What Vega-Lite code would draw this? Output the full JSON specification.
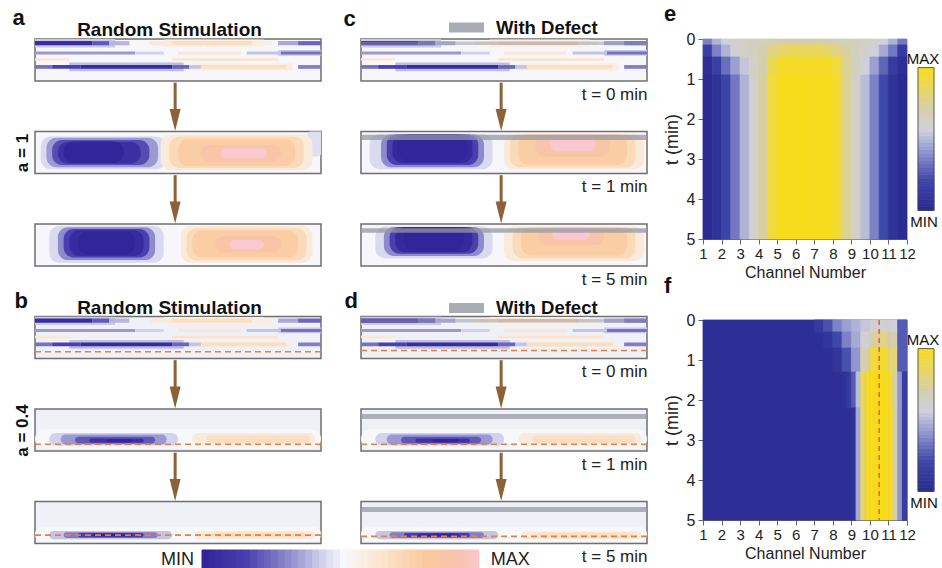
{
"$schema":"https://vega.github.io/schema/vega-lite/v6.json",
"padding":{"left":11,"top":3,"right":0,"bottom":0},
"config":{"font":"Liberation Sans","view":{"stroke":"#6f6f6f","strokeWidth":1.5},"axis":{"labelColor":"#222","titleColor":"#222","domainColor":"#666","tickColor":"#666"},"title":{"color":"#111"}},
"datasets":{
"lines":[
{"x":0,"x2":28,"y":8.0,"y2":10,"v":-0.18},{"x":12,"x2":52,"y":2.3,"y2":4.4,"v":-0.22},{"x":85,"x2":100,"y":6.0,"y2":7.4,"v":-0.18},{"x":45,"x2":80,"y":8.1,"y2":9.9,"v":0.12},{"x":55,"x2":90,"y":2.5,"y2":4.2,"v":0.14},
{"x":0,"x2":20,"y":8.5,"y2":9.5,"v":-0.9},{"x":20,"x2":26,"y":8.5,"y2":9.5,"v":-0.6},{"x":26,"x2":33,"y":8.5,"y2":9.5,"v":-0.25},{"x":40,"x2":48,"y":8.5,"y2":9.5,"v":0.2},{"x":48,"x2":76,"y":8.5,"y2":9.5,"v":0.35},{"x":76,"x2":83,"y":8.5,"y2":9.5,"v":0.15},{"x":85,"x2":92,"y":8.5,"y2":9.5,"v":-0.3},{"x":92,"x2":100,"y":8.5,"y2":9.5,"v":-0.55},
{"x":0,"x2":35,"y":6.3,"y2":7.0,"v":-0.35},{"x":35,"x2":45,"y":6.3,"y2":7.0,"v":-0.15},{"x":50,"x2":72,"y":6.3,"y2":7.0,"v":0.25},{"x":74,"x2":86,"y":6.3,"y2":7.0,"v":-0.2},{"x":86,"x2":100,"y":6.3,"y2":7.0,"v":-0.5},
{"x":0,"x2":12,"y":4.8,"y2":5.4,"v":0.25},{"x":48,"x2":85,"y":4.8,"y2":5.4,"v":0.3},
{"x":0,"x2":6,"y":2.9,"y2":3.8,"v":-0.5},{"x":6,"x2":16,"y":2.9,"y2":3.8,"v":-0.7},{"x":16,"x2":48,"y":2.9,"y2":3.8,"v":-0.92},{"x":48,"x2":54,"y":2.9,"y2":3.8,"v":-0.55},{"x":54,"x2":58,"y":2.9,"y2":3.8,"v":-0.2},{"x":58,"x2":88,"y":2.9,"y2":3.8,"v":0.35},{"x":92,"x2":100,"y":2.9,"y2":3.8,"v":-0.45}
],
"blobs":[
{"s":"a2","x":95,"x2":101,"y":4,"y2":10.5,"v":-0.1},
{"s":"a2","x":2,"x2":46,"y":1,"y2":8.8,"v":-0.12},{"s":"a2","x":4,"x2":43,"y":1.5,"y2":8.5,"v":-0.35},{"s":"a2","x":6,"x2":40,"y":2,"y2":8,"v":-0.65},{"s":"a2","x":8,"x2":37,"y":2.4,"y2":7.5,"v":-0.88},{"s":"a2","x":10,"x2":31,"y":2.5,"y2":7.6,"v":-1},
{"s":"a2","x":44,"x2":97,"y":0.8,"y2":9.3,"v":0.2},{"s":"a2","x":47,"x2":94,"y":1.3,"y2":8.8,"v":0.4},{"s":"a2","x":50,"x2":91,"y":1.8,"y2":8.2,"v":0.55},{"s":"a2","x":58,"x2":86,"y":2.8,"y2":6.8,"v":0.75},{"s":"a2","x":65,"x2":81,"y":3.6,"y2":6,"v":1},
{"s":"a3","x":5,"x2":45,"y":0.8,"y2":9.6,"v":-0.12},{"s":"a3","x":8,"x2":42,"y":1.4,"y2":9.2,"v":-0.4},{"s":"a3","x":10,"x2":40,"y":2,"y2":8.8,"v":-0.7},{"s":"a3","x":12,"x2":38,"y":2.4,"y2":8.5,"v":-0.92},{"s":"a3","x":15,"x2":35,"y":2.7,"y2":8.2,"v":-1},
{"s":"a3","x":51,"x2":97,"y":0.8,"y2":9.5,"v":0.2},{"s":"a3","x":53,"x2":95,"y":1.3,"y2":9,"v":0.4},{"s":"a3","x":55,"x2":92,"y":2,"y2":8.5,"v":0.55},{"s":"a3","x":63,"x2":86,"y":3.2,"y2":7.2,"v":0.75},{"s":"a3","x":68,"x2":80,"y":4,"y2":6.2,"v":1},
{"s":"c2","x":3,"x2":46,"y":1,"y2":9.4,"v":-0.12},{"s":"c2","x":7,"x2":43,"y":1.5,"y2":9.3,"v":-0.4},{"s":"c2","x":9,"x2":41,"y":2,"y2":9.3,"v":-0.7},{"s":"c2","x":11,"x2":39,"y":2.5,"y2":9.2,"v":-0.95},{"s":"c2","x":13,"x2":37,"y":2.9,"y2":9.2,"v":-1},
{"s":"c2","x":50,"x2":99,"y":1,"y2":9.4,"v":0.2},{"s":"c2","x":52,"x2":96,"y":1.4,"y2":9.3,"v":0.4},{"s":"c2","x":55,"x2":93,"y":2,"y2":9.3,"v":0.55},{"s":"c2","x":61,"x2":87,"y":4,"y2":9.2,"v":0.75},{"s":"c2","x":66,"x2":82,"y":5.3,"y2":9.1,"v":1},
{"s":"c3","x":5,"x2":46,"y":1.8,"y2":9.4,"v":-0.12},{"s":"c3","x":8,"x2":43,"y":2.4,"y2":9.3,"v":-0.4},{"s":"c3","x":10,"x2":41,"y":2.9,"y2":9.3,"v":-0.7},{"s":"c3","x":12,"x2":39,"y":3.3,"y2":9.2,"v":-0.95},{"s":"c3","x":15,"x2":36,"y":3.7,"y2":9.1,"v":-1},
{"s":"c3","x":50,"x2":99,"y":1.2,"y2":9.4,"v":0.2},{"s":"c3","x":53,"x2":96,"y":1.8,"y2":9.3,"v":0.4},{"s":"c3","x":56,"x2":93,"y":2.5,"y2":9.2,"v":0.55},{"s":"c3","x":62,"x2":85,"y":5,"y2":9.1,"v":0.75},{"s":"c3","x":67,"x2":80,"y":6.2,"y2":9,"v":1},
{"s":"b2","x":0,"x2":100,"y":0.6,"y2":5.2,"v":0},{"s":"b2","x":5,"x2":50,"y":1.3,"y2":4.3,"v":-0.15},{"s":"b2","x":9,"x2":46,"y":1.6,"y2":3.9,"v":-0.35},{"s":"b2","x":14,"x2":42,"y":1.8,"y2":3.4,"v":-0.6},{"s":"b2","x":19,"x2":38,"y":2,"y2":3,"v":-0.85},{"s":"b2","x":25,"x2":34,"y":2.1,"y2":2.8,"v":-1},
{"s":"b2","x":55,"x2":98,"y":1.5,"y2":4.3,"v":0.2},{"s":"b2","x":60,"x2":96,"y":1.9,"y2":3.8,"v":0.35},
{"s":"b3","x":0,"x2":100,"y":0.4,"y2":4,"v":0},{"s":"b3","x":5,"x2":48,"y":1,"y2":3,"v":-0.2},{"s":"b3","x":10,"x2":43,"y":1.3,"y2":2.7,"v":-0.45},{"s":"b3","x":15,"x2":38,"y":1.5,"y2":2.5,"v":-0.75},{"s":"b3","x":20,"x2":34,"y":1.7,"y2":2.3,"v":-1},
{"s":"b3","x":56,"x2":98,"y":1.1,"y2":2.9,"v":0.2},{"s":"b3","x":62,"x2":95,"y":1.4,"y2":2.6,"v":0.35}
],
"dash":[{"s":"b1","y":1.6},{"s":"b2","y":1.6},{"s":"b3","y":2.0},{"s":"d1","y":1.9},{"s":"d2","y":1.6},{"s":"d3","y":1.7}],
"defect":[{"s":"c1","y":8.6,"y2":9.4,"k":"With Defect"},{"s":"c2","y":8.0,"y2":9.2,"k":"With Defect"},{"s":"c3","y":7.9,"y2":9.0,"k":"With Defect"},{"s":"d1","y":8.6,"y2":9.4,"k":"With Defect"},{"s":"d2","y":7.6,"y2":8.8,"k":"With Defect"},{"s":"d3","y":7.5,"y2":8.7,"k":"With Defect"}],
"cb":[{"v":-1,"w":-0.95},{"v":-0.95,"w":-0.9},{"v":-0.9,"w":-0.85},{"v":-0.85,"w":-0.8},{"v":-0.8,"w":-0.75},{"v":-0.75,"w":-0.7},{"v":-0.7,"w":-0.65},{"v":-0.65,"w":-0.6},{"v":-0.6,"w":-0.55},{"v":-0.55,"w":-0.5},{"v":-0.5,"w":-0.45},{"v":-0.45,"w":-0.4},{"v":-0.4,"w":-0.35},{"v":-0.35,"w":-0.3},{"v":-0.3,"w":-0.25},{"v":-0.25,"w":-0.2},{"v":-0.2,"w":-0.15},{"v":-0.15,"w":-0.1},{"v":-0.1,"w":-0.05},{"v":-0.05,"w":0},{"v":0,"w":0.05},{"v":0.05,"w":0.1},{"v":0.1,"w":0.15},{"v":0.15,"w":0.2},{"v":0.2,"w":0.25},{"v":0.25,"w":0.3},{"v":0.3,"w":0.35},{"v":0.35,"w":0.4},{"v":0.4,"w":0.45},{"v":0.45,"w":0.5},{"v":0.5,"w":0.55},{"v":0.55,"w":0.6},{"v":0.6,"w":0.65},{"v":0.65,"w":0.7},{"v":0.7,"w":0.75},{"v":0.75,"w":0.8},{"v":0.8,"w":0.85},{"v":0.85,"w":0.9},{"v":0.9,"w":0.95},{"v":0.95,"w":1}],
"eh":[
{"c":1,"d":1.5,"t":0,"u":0.15,"v":-0.3},{"c":1.5,"d":2,"t":0,"u":0.15,"v":-0.05},{"c":2,"d":2.5,"t":0,"u":0.15,"v":0.1},{"c":2.5,"d":3,"t":0,"u":0.15,"v":0.2},{"c":3,"d":3.5,"t":0,"u":0.15,"v":0.25},{"c":3.5,"d":4,"t":0,"u":0.15,"v":0.3},{"c":4,"d":4.5,"t":0,"u":0.15,"v":0.3},{"c":4.5,"d":5,"t":0,"u":0.15,"v":0.35},{"c":5,"d":5.5,"t":0,"u":0.15,"v":0.4},{"c":5.5,"d":6,"t":0,"u":0.15,"v":0.4},{"c":6,"d":6.5,"t":0,"u":0.15,"v":0.4},{"c":6.5,"d":7,"t":0,"u":0.15,"v":0.4},{"c":7,"d":7.5,"t":0,"u":0.15,"v":0.4},{"c":7.5,"d":8,"t":0,"u":0.15,"v":0.4},{"c":8,"d":8.5,"t":0,"u":0.15,"v":0.35},{"c":8.5,"d":9,"t":0,"u":0.15,"v":0.3},{"c":9,"d":9.5,"t":0,"u":0.15,"v":0.3},{"c":9.5,"d":10,"t":0,"u":0.15,"v":0.25},{"c":10,"d":10.5,"t":0,"u":0.15,"v":0.2},{"c":10.5,"d":11,"t":0,"u":0.15,"v":0.1},{"c":11,"d":11.5,"t":0,"u":0.15,"v":-0.05},{"c":11.5,"d":12,"t":0,"u":0.15,"v":-0.35},
{"c":1,"d":1.5,"t":0.15,"u":0.45,"v":-0.7},{"c":1.5,"d":2,"t":0.15,"u":0.45,"v":-0.3},{"c":2,"d":2.5,"t":0.15,"u":0.45,"v":-0.05},{"c":2.5,"d":3,"t":0.15,"u":0.45,"v":0.15},{"c":3,"d":3.5,"t":0.15,"u":0.45,"v":0.25},{"c":3.5,"d":4,"t":0.15,"u":0.45,"v":0.3},{"c":4,"d":4.5,"t":0.15,"u":0.45,"v":0.4},{"c":4.5,"d":5,"t":0.15,"u":0.45,"v":0.55},{"c":5,"d":5.5,"t":0.15,"u":0.45,"v":0.65},{"c":5.5,"d":6,"t":0.15,"u":0.45,"v":0.7},{"c":6,"d":6.5,"t":0.15,"u":0.45,"v":0.7},{"c":6.5,"d":7,"t":0.15,"u":0.45,"v":0.7},{"c":7,"d":7.5,"t":0.15,"u":0.45,"v":0.7},{"c":7.5,"d":8,"t":0.15,"u":0.45,"v":0.65},{"c":8,"d":8.5,"t":0.15,"u":0.45,"v":0.55},{"c":8.5,"d":9,"t":0.15,"u":0.45,"v":0.45},{"c":9,"d":9.5,"t":0.15,"u":0.45,"v":0.3},{"c":9.5,"d":10,"t":0.15,"u":0.45,"v":0.25},{"c":10,"d":10.5,"t":0.15,"u":0.45,"v":0.1},{"c":10.5,"d":11,"t":0.15,"u":0.45,"v":-0.1},{"c":11,"d":11.5,"t":0.15,"u":0.45,"v":-0.35},{"c":11.5,"d":12,"t":0.15,"u":0.45,"v":-0.75},
{"c":1,"d":1.5,"t":0.45,"u":0.9,"v":-0.95},{"c":1.5,"d":2,"t":0.45,"u":0.9,"v":-0.7},{"c":2,"d":2.5,"t":0.45,"u":0.9,"v":-0.4},{"c":2.5,"d":3,"t":0.45,"u":0.9,"v":-0.15},{"c":3,"d":3.5,"t":0.45,"u":0.9,"v":0.05},{"c":3.5,"d":4,"t":0.45,"u":0.9,"v":0.25},{"c":4,"d":4.5,"t":0.45,"u":0.9,"v":0.4},{"c":4.5,"d":5,"t":0.45,"u":0.9,"v":0.75},{"c":5,"d":5.5,"t":0.45,"u":0.9,"v":0.95},{"c":5.5,"d":6,"t":0.45,"u":0.9,"v":0.95},{"c":6,"d":6.5,"t":0.45,"u":0.9,"v":0.95},{"c":6.5,"d":7,"t":0.45,"u":0.9,"v":0.95},{"c":7,"d":7.5,"t":0.45,"u":0.9,"v":0.95},{"c":7.5,"d":8,"t":0.45,"u":0.9,"v":0.95},{"c":8,"d":8.5,"t":0.45,"u":0.9,"v":0.85},{"c":8.5,"d":9,"t":0.45,"u":0.9,"v":0.5},{"c":9,"d":9.5,"t":0.45,"u":0.9,"v":0.3},{"c":9.5,"d":10,"t":0.45,"u":0.9,"v":0.1},{"c":10,"d":10.5,"t":0.45,"u":0.9,"v":-0.15},{"c":10.5,"d":11,"t":0.45,"u":0.9,"v":-0.45},{"c":11,"d":11.5,"t":0.45,"u":0.9,"v":-0.75},{"c":11.5,"d":12,"t":0.45,"u":0.9,"v":-0.95},
{"c":1,"d":1.5,"t":0.9,"u":5,"v":-1},{"c":1.5,"d":2,"t":0.9,"u":5,"v":-0.9},{"c":2,"d":2.5,"t":0.9,"u":5,"v":-0.65},{"c":2.5,"d":3,"t":0.9,"u":5,"v":-0.35},{"c":3,"d":3.5,"t":0.9,"u":5,"v":-0.05},{"c":3.5,"d":4,"t":0.9,"u":5,"v":0.2},{"c":4,"d":4.5,"t":0.9,"u":5,"v":0.45},{"c":4.5,"d":5,"t":0.9,"u":5,"v":0.85},{"c":5,"d":5.5,"t":0.9,"u":5,"v":1},{"c":5.5,"d":6,"t":0.9,"u":5,"v":1},{"c":6,"d":6.5,"t":0.9,"u":5,"v":1},{"c":6.5,"d":7,"t":0.9,"u":5,"v":1},{"c":7,"d":7.5,"t":0.9,"u":5,"v":1},{"c":7.5,"d":8,"t":0.9,"u":5,"v":1},{"c":8,"d":8.5,"t":0.9,"u":5,"v":0.9},{"c":8.5,"d":9,"t":0.9,"u":5,"v":0.5},{"c":9,"d":9.5,"t":0.9,"u":5,"v":0.25},{"c":9.5,"d":10,"t":0.9,"u":5,"v":0},{"c":10,"d":10.5,"t":0.9,"u":5,"v":-0.3},{"c":10.5,"d":11,"t":0.9,"u":5,"v":-0.6},{"c":11,"d":11.5,"t":0.9,"u":5,"v":-0.88},{"c":11.5,"d":12,"t":0.9,"u":5,"v":-1}
],
"fh":[
{"c":1,"d":12,"t":0,"u":5,"v":-0.95},
{"c":7,"d":7.5,"t":0,"u":0.3,"v":-0.8},{"c":7.5,"d":8,"t":0,"u":0.3,"v":-0.55},{"c":8,"d":8.5,"t":0,"u":0.3,"v":-0.3},{"c":8.5,"d":9,"t":0,"u":0.3,"v":-0.15},{"c":9,"d":9.5,"t":0,"u":0.3,"v":-0.05},{"c":9.5,"d":10,"t":0,"u":0.3,"v":0.05},{"c":10,"d":10.5,"t":0,"u":0.3,"v":0.15},{"c":10.5,"d":11,"t":0,"u":0.3,"v":0.2},{"c":11,"d":11.5,"t":0,"u":0.3,"v":0.1},{"c":11.5,"d":12,"t":0,"u":0.3,"v":-0.5},
{"c":7.5,"d":8,"t":0.3,"u":0.7,"v":-0.85},{"c":8,"d":8.5,"t":0.3,"u":0.7,"v":-0.6},{"c":8.5,"d":9,"t":0.3,"u":0.7,"v":-0.3},{"c":9,"d":9.5,"t":0.3,"u":0.7,"v":-0.1},{"c":9.5,"d":10,"t":0.3,"u":0.7,"v":0.15},{"c":10,"d":10.5,"t":0.3,"u":0.7,"v":0.45},{"c":10.5,"d":11,"t":0.3,"u":0.7,"v":0.55},{"c":11,"d":11.5,"t":0.3,"u":0.7,"v":0.4},{"c":11.5,"d":12,"t":0.3,"u":0.7,"v":-0.5},
{"c":8,"d":8.5,"t":0.7,"u":1.3,"v":-0.85},{"c":8.5,"d":9,"t":0.7,"u":1.3,"v":-0.55},{"c":9,"d":9.5,"t":0.7,"u":1.3,"v":-0.2},{"c":9.5,"d":10,"t":0.7,"u":1.3,"v":0.4},{"c":10,"d":10.5,"t":0.7,"u":1.3,"v":0.85},{"c":10.5,"d":11,"t":0.7,"u":1.3,"v":0.9},{"c":11,"d":11.5,"t":0.7,"u":1.3,"v":0.6},{"c":11.5,"d":12,"t":0.7,"u":1.3,"v":-0.5},
{"c":8.5,"d":8.75,"t":1.3,"u":2.2,"v":-0.92},{"c":8.75,"d":9,"t":1.3,"u":2.2,"v":-0.8},{"c":9,"d":9.25,"t":1.3,"u":2.2,"v":-0.5},{"c":9.25,"d":9.5,"t":1.3,"u":2.2,"v":0},{"c":9.5,"d":9.75,"t":1.3,"u":2.2,"v":0.65},{"c":9.75,"d":10,"t":1.3,"u":2.2,"v":0.95},{"c":10,"d":10.25,"t":1.3,"u":2.2,"v":1},{"c":10.25,"d":10.5,"t":1.3,"u":2.2,"v":1},{"c":10.5,"d":10.75,"t":1.3,"u":2.2,"v":1},{"c":10.75,"d":11,"t":1.3,"u":2.2,"v":1},{"c":11,"d":11.25,"t":1.3,"u":2.2,"v":0.9},{"c":11.25,"d":11.5,"t":1.3,"u":2.2,"v":0.35},{"c":11.5,"d":11.75,"t":1.3,"u":2.2,"v":-0.2},{"c":11.75,"d":12,"t":1.3,"u":2.2,"v":-0.75},
{"c":9,"d":9.25,"t":2.2,"u":5,"v":-0.9},{"c":9.25,"d":9.5,"t":2.2,"u":5,"v":-0.1},{"c":9.5,"d":9.75,"t":2.2,"u":5,"v":0.6},{"c":9.75,"d":10,"t":2.2,"u":5,"v":0.95},{"c":10,"d":10.25,"t":2.2,"u":5,"v":1},{"c":10.25,"d":10.5,"t":2.2,"u":5,"v":1},{"c":10.5,"d":10.75,"t":2.2,"u":5,"v":1},{"c":10.75,"d":11,"t":2.2,"u":5,"v":1},{"c":11,"d":11.25,"t":2.2,"u":5,"v":0.95},{"c":11.25,"d":11.5,"t":2.2,"u":5,"v":0.4},{"c":11.5,"d":11.75,"t":2.2,"u":5,"v":-0.2},{"c":11.75,"d":12,"t":2.2,"u":5,"v":-0.75}
],
"fmark":[{"c":10.5}]
},
"spacing":14,
"resolve":{"scale":{"color":"independent","stroke":"independent"}},
"hconcat":[
{"concat":[
{"width":286,"height":42,"view":{"fill":"#f7f7fb"},"layer":[
 {"data":{"name":"lines"},"mark":{"type":"rect","clip":true},"encoding":{"x":{"field":"x","type":"quantitative","scale":{"domain":[0,100]},"axis":{"orient":"top","title":"Random Stimulation","titleX":134,"titleY":-4,"titleAlign":"center","titleBaseline":"alphabetic","titleFontSize":19,"titleFontWeight":"bold","titleColor":"#111","labels":false,"ticks":false,"domain":false,"grid":false}},"x2":{"field":"x2"},"y":{"field":"y","type":"quantitative","scale":{"domain":[0,10]},"axis":{"title":"a","titleAngle":0,"titleX":-23,"titleY":-15,"titleAlign":"left","titleBaseline":"alphabetic","titleFontSize":22,"titleFontWeight":"bold","titleColor":"#111","labels":false,"ticks":false,"domain":false,"grid":false}},"y2":{"field":"y2"},"color":{"field":"v","type":"quantitative","scale":{"domain":[-1,-0.7,-0.4,-0.15,0,0.3,0.6,0.85,1],"range":["#32249a","#4a3fae","#8e8acd","#d2d2ec","#f7f8fc","#fce3c9","#f9c99c","#f9c3b2","#fcc8d0"],"interpolate":"rgb"},"legend":null}}},
 {"data":{"values":[{}]},"mark":{"type":"rule","color":"#8c6239","strokeWidth":3},"encoding":{"x":{"datum":49,"type":"quantitative","axis":{"orient":"top","title":"Random Stimulation","titleX":134,"titleY":-4,"titleAlign":"center","titleBaseline":"alphabetic","titleFontSize":19,"titleFontWeight":"bold","titleColor":"#111","labels":false,"ticks":false,"domain":false,"grid":false}},"y":{"datum":-0.4,"type":"quantitative","axis":{"title":"a","titleAngle":0,"titleX":-23,"titleY":-15,"titleAlign":"left","titleBaseline":"alphabetic","titleFontSize":22,"titleFontWeight":"bold","titleColor":"#111","labels":false,"ticks":false,"domain":false,"grid":false}},"y2":{"datum":-6.9}}},
 {"data":{"values":[{}]},"mark":{"type":"point","shape":"M-0.5,-1L0.5,-1L0,1Z","size":484,"filled":true,"color":"#8c6239","opacity":1,"strokeWidth":0},"encoding":{"x":{"datum":49,"type":"quantitative","axis":{"orient":"top","title":"Random Stimulation","titleX":134,"titleY":-4,"titleAlign":"center","titleBaseline":"alphabetic","titleFontSize":19,"titleFontWeight":"bold","titleColor":"#111","labels":false,"ticks":false,"domain":false,"grid":false}},"y":{"datum":-9.3,"type":"quantitative","axis":{"title":"a","titleAngle":0,"titleX":-23,"titleY":-15,"titleAlign":"left","titleBaseline":"alphabetic","titleFontSize":22,"titleFontWeight":"bold","titleColor":"#111","labels":false,"ticks":false,"domain":false,"grid":false}}}}
]},
{"width":286,"height":42,"view":{"fill":"#f7f7fb"},"layer":[
 {"data":{"name":"lines"},"mark":{"type":"rect","clip":true},"encoding":{"x":{"field":"x","type":"quantitative","scale":{"domain":[0,100]},"axis":{"title":"t = 0 min","titleAnchor":"end","titleFontSize":17,"titleFontWeight":"normal","titlePadding":5,"labels":false,"ticks":false,"domain":false,"grid":false}},"x2":{"field":"x2"},"y":{"field":"y","type":"quantitative","scale":{"domain":[0,10]},"axis":{"title":"c","titleAngle":0,"titleX":-18,"titleY":-14,"titleAlign":"left","titleBaseline":"alphabetic","titleFontSize":22,"titleFontWeight":"bold","titleColor":"#111","labels":false,"ticks":false,"domain":false,"grid":false}},"y2":{"field":"y2"},"color":{"field":"v","type":"quantitative","scale":{"domain":[-1,-0.7,-0.4,-0.15,0,0.3,0.6,0.85,1],"range":["#32249a","#4a3fae","#8e8acd","#d2d2ec","#f7f8fc","#fce3c9","#f9c99c","#f9c3b2","#fcc8d0"],"interpolate":"rgb"},"legend":null}}},
 {"data":{"name":"defect"},"transform":[{"filter":"datum.s==='c1'"}],"mark":{"type":"rect","opacity":0.5},"encoding":{"y":{"field":"y","type":"quantitative","axis":{"title":"c","titleAngle":0,"titleX":-18,"titleY":-14,"titleAlign":"left","titleBaseline":"alphabetic","titleFontSize":22,"titleFontWeight":"bold","titleColor":"#111","labels":false,"ticks":false,"domain":false,"grid":false}},"y2":{"field":"y2"},"fill":{"field":"k","type":"nominal","scale":{"range":["#9597a3"]},"legend":{"orient":"none","legendX":88,"legendY":-29,"title":null,"direction":"horizontal","symbolType":"M-1,-0.2857H1V0.2857H-1Z","symbolSize":1225,"symbolStrokeWidth":0,"symbolOpacity":0.8,"labelFontSize":18.5,"labelFontWeight":"bold","labelColor":"#111","labelOffset":12,"labelLimit":300,"padding":0}}}},
 {"data":{"values":[{}]},"mark":{"type":"rule","color":"#8c6239","strokeWidth":3},"encoding":{"x":{"datum":49,"type":"quantitative","axis":{"title":"t = 0 min","titleAnchor":"end","titleFontSize":17,"titleFontWeight":"normal","titlePadding":5,"labels":false,"ticks":false,"domain":false,"grid":false}},"y":{"datum":-0.4,"type":"quantitative","axis":{"title":"c","titleAngle":0,"titleX":-18,"titleY":-14,"titleAlign":"left","titleBaseline":"alphabetic","titleFontSize":22,"titleFontWeight":"bold","titleColor":"#111","labels":false,"ticks":false,"domain":false,"grid":false}},"y2":{"datum":-6.9}}},
 {"data":{"values":[{}]},"mark":{"type":"point","shape":"M-0.5,-1L0.5,-1L0,1Z","size":484,"filled":true,"color":"#8c6239","opacity":1,"strokeWidth":0},"encoding":{"x":{"datum":49,"type":"quantitative","axis":{"title":"t = 0 min","titleAnchor":"end","titleFontSize":17,"titleFontWeight":"normal","titlePadding":5,"labels":false,"ticks":false,"domain":false,"grid":false}},"y":{"datum":-9.3,"type":"quantitative","axis":{"title":"c","titleAngle":0,"titleX":-18,"titleY":-14,"titleAlign":"left","titleBaseline":"alphabetic","titleFontSize":22,"titleFontWeight":"bold","titleColor":"#111","labels":false,"ticks":false,"domain":false,"grid":false}}}}
]},
{"width":286,"height":42,"view":{"fill":"#f7f7fb"},"layer":[
 {"data":{"name":"blobs"},"transform":[{"filter":"datum.s==='a2'"}],"mark":{"type":"rect","clip":true,"cornerRadius":10},"encoding":{"x":{"field":"x","type":"quantitative","scale":{"domain":[0,100]},"axis":null},"x2":{"field":"x2"},"y":{"field":"y","type":"quantitative","scale":{"domain":[0,10]},"axis":{"title":"a = 1","titleFontSize":17,"titleFontWeight":"bold","titleColor":"#111","titlePadding":4,"labels":false,"ticks":false,"domain":false,"grid":false}},"y2":{"field":"y2"},"color":{"field":"v","type":"quantitative","scale":{"domain":[-1,-0.7,-0.4,-0.15,0,0.3,0.6,0.85,1],"range":["#32249a","#4a3fae","#8e8acd","#d2d2ec","#f7f8fc","#fce3c9","#f9c99c","#f9c3b2","#fcc8d0"],"interpolate":"rgb"},"legend":null}}},
 {"data":{"values":[{}]},"mark":{"type":"rule","color":"#8c6239","strokeWidth":3},"encoding":{"x":{"datum":49,"type":"quantitative","axis":null},"y":{"datum":-0.4,"type":"quantitative","axis":{"title":"a = 1","titleFontSize":17,"titleFontWeight":"bold","titleColor":"#111","titlePadding":4,"labels":false,"ticks":false,"domain":false,"grid":false}},"y2":{"datum":-6.9}}},
 {"data":{"values":[{}]},"mark":{"type":"point","shape":"M-0.5,-1L0.5,-1L0,1Z","size":484,"filled":true,"color":"#8c6239","opacity":1,"strokeWidth":0},"encoding":{"x":{"datum":49,"type":"quantitative","axis":null},"y":{"datum":-9.3,"type":"quantitative","axis":{"title":"a = 1","titleFontSize":17,"titleFontWeight":"bold","titleColor":"#111","titlePadding":4,"labels":false,"ticks":false,"domain":false,"grid":false}}}}
]},
{"width":286,"height":42,"view":{"fill":"#f7f7fb"},"layer":[
 {"data":{"name":"blobs"},"transform":[{"filter":"datum.s==='c2'"}],"mark":{"type":"rect","clip":true,"cornerRadius":10},"encoding":{"x":{"field":"x","type":"quantitative","scale":{"domain":[0,100]},"axis":{"title":"t = 1 min","titleAnchor":"end","titleFontSize":17,"titleFontWeight":"normal","titlePadding":5,"labels":false,"ticks":false,"domain":false,"grid":false}},"x2":{"field":"x2"},"y":{"field":"y","type":"quantitative","scale":{"domain":[0,10]},"axis":null},"y2":{"field":"y2"},"color":{"field":"v","type":"quantitative","scale":{"domain":[-1,-0.7,-0.4,-0.15,0,0.3,0.6,0.85,1],"range":["#32249a","#4a3fae","#8e8acd","#d2d2ec","#f7f8fc","#fce3c9","#f9c99c","#f9c3b2","#fcc8d0"],"interpolate":"rgb"},"legend":null}}},
 {"data":{"name":"defect"},"transform":[{"filter":"datum.s==='c2'"}],"mark":{"type":"rect","color":"#9597a3","opacity":0.75},"encoding":{"y":{"field":"y","type":"quantitative","axis":null},"y2":{"field":"y2"}}},
 {"data":{"values":[{}]},"mark":{"type":"rule","color":"#8c6239","strokeWidth":3},"encoding":{"x":{"datum":49,"type":"quantitative","axis":{"title":"t = 1 min","titleAnchor":"end","titleFontSize":17,"titleFontWeight":"normal","titlePadding":5,"labels":false,"ticks":false,"domain":false,"grid":false}},"y":{"datum":-0.4,"type":"quantitative","axis":null},"y2":{"datum":-6.9}}},
 {"data":{"values":[{}]},"mark":{"type":"point","shape":"M-0.5,-1L0.5,-1L0,1Z","size":484,"filled":true,"color":"#8c6239","opacity":1,"strokeWidth":0},"encoding":{"x":{"datum":49,"type":"quantitative","axis":{"title":"t = 1 min","titleAnchor":"end","titleFontSize":17,"titleFontWeight":"normal","titlePadding":5,"labels":false,"ticks":false,"domain":false,"grid":false}},"y":{"datum":-9.3,"type":"quantitative","axis":null}}}
]},
{"width":286,"height":42,"view":{"fill":"#f7f7fb"},"layer":[
 {"data":{"name":"blobs"},"transform":[{"filter":"datum.s==='a3'"}],"mark":{"type":"rect","clip":true,"cornerRadius":10},"encoding":{"x":{"field":"x","type":"quantitative","scale":{"domain":[0,100]},"axis":null},"x2":{"field":"x2"},"y":{"field":"y","type":"quantitative","scale":{"domain":[0,10]},"axis":null},"y2":{"field":"y2"},"color":{"field":"v","type":"quantitative","scale":{"domain":[-1,-0.7,-0.4,-0.15,0,0.3,0.6,0.85,1],"range":["#32249a","#4a3fae","#8e8acd","#d2d2ec","#f7f8fc","#fce3c9","#f9c99c","#f9c3b2","#fcc8d0"],"interpolate":"rgb"},"legend":null}}}
]},
{"width":286,"height":42,"view":{"fill":"#f7f7fb"},"layer":[
 {"data":{"name":"blobs"},"transform":[{"filter":"datum.s==='c3'"}],"mark":{"type":"rect","clip":true,"cornerRadius":10},"encoding":{"x":{"field":"x","type":"quantitative","scale":{"domain":[0,100]},"axis":{"title":"t = 5 min","titleAnchor":"end","titleFontSize":17,"titleFontWeight":"normal","titlePadding":5,"labels":false,"ticks":false,"domain":false,"grid":false}},"x2":{"field":"x2"},"y":{"field":"y","type":"quantitative","scale":{"domain":[0,10]},"axis":null},"y2":{"field":"y2"},"color":{"field":"v","type":"quantitative","scale":{"domain":[-1,-0.7,-0.4,-0.15,0,0.3,0.6,0.85,1],"range":["#32249a","#4a3fae","#8e8acd","#d2d2ec","#f7f8fc","#fce3c9","#f9c99c","#f9c3b2","#fcc8d0"],"interpolate":"rgb"},"legend":null}}},
 {"data":{"name":"defect"},"transform":[{"filter":"datum.s==='c3'"}],"mark":{"type":"rect","color":"#9597a3","opacity":0.75},"encoding":{"y":{"field":"y","type":"quantitative","axis":null},"y2":{"field":"y2"}}}
]},
{"width":286,"height":42,"view":{"fill":"#eff1f6"},"layer":[
 {"data":{"name":"lines"},"mark":{"type":"rect","clip":true},"encoding":{"x":{"field":"x","type":"quantitative","scale":{"domain":[0,100]},"axis":{"orient":"top","title":"Random Stimulation","titleX":134,"titleY":-3,"titleAlign":"center","titleBaseline":"alphabetic","titleFontSize":19,"titleFontWeight":"bold","titleColor":"#111","labels":false,"ticks":false,"domain":false,"grid":false}},"x2":{"field":"x2"},"y":{"field":"y","type":"quantitative","scale":{"domain":[0,10]},"axis":{"title":"b","titleAngle":0,"titleX":-21,"titleY":-9.5,"titleAlign":"left","titleBaseline":"alphabetic","titleFontSize":22,"titleFontWeight":"bold","titleColor":"#111","labels":false,"ticks":false,"domain":false,"grid":false}},"y2":{"field":"y2"},"color":{"field":"v","type":"quantitative","scale":{"domain":[-1,-0.7,-0.4,-0.15,0,0.3,0.6,0.85,1],"range":["#32249a","#4a3fae","#8e8acd","#d2d2ec","#f7f8fc","#fce3c9","#f9c99c","#f9c3b2","#fcc8d0"],"interpolate":"rgb"},"legend":null}}},
 {"data":{"name":"dash"},"transform":[{"filter":"datum.s==='b1'"}],"mark":{"type":"rule","color":"#ef7d3c","strokeWidth":1.6,"strokeDash":[6,4]},"encoding":{"y":{"field":"y","type":"quantitative","axis":{"title":"b","titleAngle":0,"titleX":-21,"titleY":-9.5,"titleAlign":"left","titleBaseline":"alphabetic","titleFontSize":22,"titleFontWeight":"bold","titleColor":"#111","labels":false,"ticks":false,"domain":false,"grid":false}}}},
 {"data":{"values":[{}]},"mark":{"type":"rule","color":"#8c6239","strokeWidth":3},"encoding":{"x":{"datum":49,"type":"quantitative","axis":{"orient":"top","title":"Random Stimulation","titleX":134,"titleY":-3,"titleAlign":"center","titleBaseline":"alphabetic","titleFontSize":19,"titleFontWeight":"bold","titleColor":"#111","labels":false,"ticks":false,"domain":false,"grid":false}},"y":{"datum":-0.4,"type":"quantitative","axis":{"title":"b","titleAngle":0,"titleX":-21,"titleY":-9.5,"titleAlign":"left","titleBaseline":"alphabetic","titleFontSize":22,"titleFontWeight":"bold","titleColor":"#111","labels":false,"ticks":false,"domain":false,"grid":false}},"y2":{"datum":-6.9}}},
 {"data":{"values":[{}]},"mark":{"type":"point","shape":"M-0.5,-1L0.5,-1L0,1Z","size":484,"filled":true,"color":"#8c6239","opacity":1,"strokeWidth":0},"encoding":{"x":{"datum":49,"type":"quantitative","axis":{"orient":"top","title":"Random Stimulation","titleX":134,"titleY":-3,"titleAlign":"center","titleBaseline":"alphabetic","titleFontSize":19,"titleFontWeight":"bold","titleColor":"#111","labels":false,"ticks":false,"domain":false,"grid":false}},"y":{"datum":-9.3,"type":"quantitative","axis":{"title":"b","titleAngle":0,"titleX":-21,"titleY":-9.5,"titleAlign":"left","titleBaseline":"alphabetic","titleFontSize":22,"titleFontWeight":"bold","titleColor":"#111","labels":false,"ticks":false,"domain":false,"grid":false}}}}
]},
{"width":286,"height":42,"view":{"fill":"#eff1f6"},"layer":[
 {"data":{"name":"lines"},"mark":{"type":"rect","clip":true},"encoding":{"x":{"field":"x","type":"quantitative","scale":{"domain":[0,100]},"axis":{"title":"t = 0 min","titleAnchor":"end","titleFontSize":17,"titleFontWeight":"normal","titlePadding":5,"labels":false,"ticks":false,"domain":false,"grid":false}},"x2":{"field":"x2"},"y":{"field":"y","type":"quantitative","scale":{"domain":[0,10]},"axis":{"title":"d","titleAngle":0,"titleX":-17,"titleY":-9.5,"titleAlign":"left","titleBaseline":"alphabetic","titleFontSize":22,"titleFontWeight":"bold","titleColor":"#111","labels":false,"ticks":false,"domain":false,"grid":false}},"y2":{"field":"y2"},"color":{"field":"v","type":"quantitative","scale":{"domain":[-1,-0.7,-0.4,-0.15,0,0.3,0.6,0.85,1],"range":["#32249a","#4a3fae","#8e8acd","#d2d2ec","#f7f8fc","#fce3c9","#f9c99c","#f9c3b2","#fcc8d0"],"interpolate":"rgb"},"legend":null}}},
 {"data":{"name":"dash"},"transform":[{"filter":"datum.s==='d1'"}],"mark":{"type":"rule","color":"#ef7d3c","strokeWidth":1.6,"strokeDash":[6,4]},"encoding":{"y":{"field":"y","type":"quantitative","axis":{"title":"d","titleAngle":0,"titleX":-17,"titleY":-9.5,"titleAlign":"left","titleBaseline":"alphabetic","titleFontSize":22,"titleFontWeight":"bold","titleColor":"#111","labels":false,"ticks":false,"domain":false,"grid":false}}}},
 {"data":{"name":"defect"},"transform":[{"filter":"datum.s==='d1'"}],"mark":{"type":"rect","opacity":0.5},"encoding":{"y":{"field":"y","type":"quantitative","axis":{"title":"d","titleAngle":0,"titleX":-17,"titleY":-9.5,"titleAlign":"left","titleBaseline":"alphabetic","titleFontSize":22,"titleFontWeight":"bold","titleColor":"#111","labels":false,"ticks":false,"domain":false,"grid":false}},"y2":{"field":"y2"},"fill":{"field":"k","type":"nominal","scale":{"range":["#9597a3"]},"legend":{"orient":"none","legendX":88,"legendY":-26,"title":null,"direction":"horizontal","symbolType":"M-1,-0.2857H1V0.2857H-1Z","symbolSize":1225,"symbolStrokeWidth":0,"symbolOpacity":0.8,"labelFontSize":18.5,"labelFontWeight":"bold","labelColor":"#111","labelOffset":12,"labelLimit":300,"padding":0}}}},
 {"data":{"values":[{}]},"mark":{"type":"rule","color":"#8c6239","strokeWidth":3},"encoding":{"x":{"datum":49,"type":"quantitative","axis":{"title":"t = 0 min","titleAnchor":"end","titleFontSize":17,"titleFontWeight":"normal","titlePadding":5,"labels":false,"ticks":false,"domain":false,"grid":false}},"y":{"datum":-0.4,"type":"quantitative","axis":{"title":"d","titleAngle":0,"titleX":-17,"titleY":-9.5,"titleAlign":"left","titleBaseline":"alphabetic","titleFontSize":22,"titleFontWeight":"bold","titleColor":"#111","labels":false,"ticks":false,"domain":false,"grid":false}},"y2":{"datum":-6.9}}},
 {"data":{"values":[{}]},"mark":{"type":"point","shape":"M-0.5,-1L0.5,-1L0,1Z","size":484,"filled":true,"color":"#8c6239","opacity":1,"strokeWidth":0},"encoding":{"x":{"datum":49,"type":"quantitative","axis":{"title":"t = 0 min","titleAnchor":"end","titleFontSize":17,"titleFontWeight":"normal","titlePadding":5,"labels":false,"ticks":false,"domain":false,"grid":false}},"y":{"datum":-9.3,"type":"quantitative","axis":{"title":"d","titleAngle":0,"titleX":-17,"titleY":-9.5,"titleAlign":"left","titleBaseline":"alphabetic","titleFontSize":22,"titleFontWeight":"bold","titleColor":"#111","labels":false,"ticks":false,"domain":false,"grid":false}}}}
]},
{"width":286,"height":42,"view":{"fill":"#eff1f6"},"layer":[
 {"data":{"name":"blobs"},"transform":[{"filter":"datum.s==='b2'"}],"mark":{"type":"rect","clip":true,"cornerRadius":10},"encoding":{"x":{"field":"x","type":"quantitative","scale":{"domain":[0,100]},"axis":null},"x2":{"field":"x2"},"y":{"field":"y","type":"quantitative","scale":{"domain":[0,10]},"axis":{"title":"a = 0.4","titleFontSize":17,"titleFontWeight":"bold","titleColor":"#111","titlePadding":4,"labels":false,"ticks":false,"domain":false,"grid":false}},"y2":{"field":"y2"},"color":{"field":"v","type":"quantitative","scale":{"domain":[-1,-0.7,-0.4,-0.15,0,0.3,0.6,0.85,1],"range":["#32249a","#4a3fae","#8e8acd","#d2d2ec","#f7f8fc","#fce3c9","#f9c99c","#f9c3b2","#fcc8d0"],"interpolate":"rgb"},"legend":null}}},
 {"data":{"name":"dash"},"transform":[{"filter":"datum.s==='b2'"}],"mark":{"type":"rule","color":"#ef7d3c","strokeWidth":1.6,"strokeDash":[6,4]},"encoding":{"y":{"field":"y","type":"quantitative","axis":{"title":"a = 0.4","titleFontSize":17,"titleFontWeight":"bold","titleColor":"#111","titlePadding":4,"labels":false,"ticks":false,"domain":false,"grid":false}}}},
 {"data":{"values":[{}]},"mark":{"type":"rule","color":"#8c6239","strokeWidth":3},"encoding":{"x":{"datum":49,"type":"quantitative","axis":null},"y":{"datum":-0.4,"type":"quantitative","axis":{"title":"a = 0.4","titleFontSize":17,"titleFontWeight":"bold","titleColor":"#111","titlePadding":4,"labels":false,"ticks":false,"domain":false,"grid":false}},"y2":{"datum":-6.9}}},
 {"data":{"values":[{}]},"mark":{"type":"point","shape":"M-0.5,-1L0.5,-1L0,1Z","size":484,"filled":true,"color":"#8c6239","opacity":1,"strokeWidth":0},"encoding":{"x":{"datum":49,"type":"quantitative","axis":null},"y":{"datum":-9.3,"type":"quantitative","axis":{"title":"a = 0.4","titleFontSize":17,"titleFontWeight":"bold","titleColor":"#111","titlePadding":4,"labels":false,"ticks":false,"domain":false,"grid":false}}}}
]},
{"width":286,"height":42,"view":{"fill":"#eff1f6"},"layer":[
 {"data":{"name":"blobs"},"transform":[{"filter":"datum.s==='b2'"}],"mark":{"type":"rect","clip":true,"cornerRadius":10},"encoding":{"x":{"field":"x","type":"quantitative","scale":{"domain":[0,100]},"axis":{"title":"t = 1 min","titleAnchor":"end","titleFontSize":17,"titleFontWeight":"normal","titlePadding":5,"labels":false,"ticks":false,"domain":false,"grid":false}},"x2":{"field":"x2"},"y":{"field":"y","type":"quantitative","scale":{"domain":[0,10]},"axis":null},"y2":{"field":"y2"},"color":{"field":"v","type":"quantitative","scale":{"domain":[-1,-0.7,-0.4,-0.15,0,0.3,0.6,0.85,1],"range":["#32249a","#4a3fae","#8e8acd","#d2d2ec","#f7f8fc","#fce3c9","#f9c99c","#f9c3b2","#fcc8d0"],"interpolate":"rgb"},"legend":null}}},
 {"data":{"name":"dash"},"transform":[{"filter":"datum.s==='d2'"}],"mark":{"type":"rule","color":"#ef7d3c","strokeWidth":1.6,"strokeDash":[6,4]},"encoding":{"y":{"field":"y","type":"quantitative","axis":null}}},
 {"data":{"name":"defect"},"transform":[{"filter":"datum.s==='d2'"}],"mark":{"type":"rect","color":"#9597a3","opacity":0.75},"encoding":{"y":{"field":"y","type":"quantitative","axis":null},"y2":{"field":"y2"}}},
 {"data":{"values":[{}]},"mark":{"type":"rule","color":"#8c6239","strokeWidth":3},"encoding":{"x":{"datum":49,"type":"quantitative","axis":{"title":"t = 1 min","titleAnchor":"end","titleFontSize":17,"titleFontWeight":"normal","titlePadding":5,"labels":false,"ticks":false,"domain":false,"grid":false}},"y":{"datum":-0.4,"type":"quantitative","axis":null},"y2":{"datum":-6.9}}},
 {"data":{"values":[{}]},"mark":{"type":"point","shape":"M-0.5,-1L0.5,-1L0,1Z","size":484,"filled":true,"color":"#8c6239","opacity":1,"strokeWidth":0},"encoding":{"x":{"datum":49,"type":"quantitative","axis":{"title":"t = 1 min","titleAnchor":"end","titleFontSize":17,"titleFontWeight":"normal","titlePadding":5,"labels":false,"ticks":false,"domain":false,"grid":false}},"y":{"datum":-9.3,"type":"quantitative","axis":null}}}
]},
{"width":286,"height":42,"view":{"fill":"#eff1f6"},"resolve":{"scale":{"x":"independent"}},"layer":[
 {"data":{"name":"blobs"},"transform":[{"filter":"datum.s==='b3'"}],"mark":{"type":"rect","clip":true,"cornerRadius":10},"encoding":{"x":{"field":"x","type":"quantitative","scale":{"domain":[0,100]},"axis":null},"x2":{"field":"x2"},"y":{"field":"y","type":"quantitative","scale":{"domain":[0,10]},"axis":null},"y2":{"field":"y2"},"color":{"field":"v","type":"quantitative","scale":{"domain":[-1,-0.7,-0.4,-0.15,0,0.3,0.6,0.85,1],"range":["#32249a","#4a3fae","#8e8acd","#d2d2ec","#f7f8fc","#fce3c9","#f9c99c","#f9c3b2","#fcc8d0"],"interpolate":"rgb"},"legend":null}}},
 {"data":{"name":"dash"},"transform":[{"filter":"datum.s==='b3'"}],"mark":{"type":"rule","color":"#ef7d3c","strokeWidth":1.6,"strokeDash":[6,4]},"encoding":{"y":{"field":"y","type":"quantitative","axis":null}}},
 {"data":{"name":"cb"},"mark":{"type":"rect","strokeWidth":1},"encoding":{"x":{"field":"v","type":"quantitative","scale":{"domain":[-2.2066,-0.1405]},"axis":null},"x2":{"field":"w"},"y":{"datum":-1.55,"type":"quantitative","axis":null},"y2":{"datum":-6.6},"color":{"field":"v","type":"quantitative","scale":{"domain":[-1,-0.7,-0.4,-0.15,0,0.3,0.6,0.85,1],"range":["#32249a","#4a3fae","#8e8acd","#d2d2ec","#f7f8fc","#fce3c9","#f9c99c","#f9c3b2","#fcc8d0"],"interpolate":"rgb"},"legend":null},"stroke":{"field":"v","type":"quantitative","scale":{"domain":[-1,-0.7,-0.4,-0.15,0,0.3,0.6,0.85,1],"range":["#32249a","#4a3fae","#8e8acd","#d2d2ec","#f7f8fc","#fce3c9","#f9c99c","#f9c3b2","#fcc8d0"],"interpolate":"rgb"},"legend":null}}},
 {"data":{"values":[{}]},"mark":{"type":"text","text":"MIN","align":"right","baseline":"middle","dx":-8,"fontSize":18,"color":"#222"},"encoding":{"x":{"datum":-1,"type":"quantitative","scale":{"domain":[-2.2066,-0.1405]},"axis":null},"y":{"datum":-3.95,"type":"quantitative","axis":null}}},
 {"data":{"values":[{}]},"mark":{"type":"text","text":"MAX","align":"left","baseline":"middle","dx":12,"fontSize":18,"color":"#222"},"encoding":{"x":{"datum":1,"type":"quantitative","scale":{"domain":[-2.2066,-0.1405]},"axis":null},"y":{"datum":-3.95,"type":"quantitative","axis":null}}}
]},
{"width":286,"height":42,"view":{"fill":"#eff1f6"},"layer":[
 {"data":{"name":"blobs"},"transform":[{"filter":"datum.s==='b3'"}],"mark":{"type":"rect","clip":true,"cornerRadius":10},"encoding":{"x":{"field":"x","type":"quantitative","scale":{"domain":[0,100]},"axis":{"title":"t = 5 min","titleAnchor":"end","titleFontSize":17,"titleFontWeight":"normal","titlePadding":5,"labels":false,"ticks":false,"domain":false,"grid":false}},"x2":{"field":"x2"},"y":{"field":"y","type":"quantitative","scale":{"domain":[0,10]},"axis":null},"y2":{"field":"y2"},"color":{"field":"v","type":"quantitative","scale":{"domain":[-1,-0.7,-0.4,-0.15,0,0.3,0.6,0.85,1],"range":["#32249a","#4a3fae","#8e8acd","#d2d2ec","#f7f8fc","#fce3c9","#f9c99c","#f9c3b2","#fcc8d0"],"interpolate":"rgb"},"legend":null}}},
 {"data":{"name":"dash"},"transform":[{"filter":"datum.s==='d3'"}],"mark":{"type":"rule","color":"#ef7d3c","strokeWidth":1.6,"strokeDash":[6,4]},"encoding":{"y":{"field":"y","type":"quantitative","axis":null}}},
 {"data":{"name":"defect"},"transform":[{"filter":"datum.s==='d3'"}],"mark":{"type":"rect","color":"#9597a3","opacity":0.75},"encoding":{"y":{"field":"y","type":"quantitative","axis":null},"y2":{"field":"y2"}}}
]}
],"columns":2,"spacing":{"row":50.5,"column":40},"bounds":"flush","resolve":{"scale":{"fill":"independent"},"legend":{"fill":"independent"}}},
{"concat":[
{"width":204,"height":200,"view":{"stroke":null},"title":{"text":"e","anchor":"start","frame":"group","dx":-39,"offset":5,"fontSize":22,"fontWeight":"bold"},"layer":[
 {"data":{"name":"eh"},"mark":{"type":"rect","strokeWidth":0.8},"encoding":{"x":{"field":"c","type":"quantitative","scale":{"domain":[1,12],"nice":false,"zero":false},"axis":{"values":[1,2,3,4,5,6,7,8,9,10,11,12],"title":"Channel Number","titleFontSize":16,"titleFontWeight":"normal","labelFontSize":15,"labelFlush":false,"labelOverlap":false,"tickSize":5,"labelPadding":2,"titlePadding":3,"grid":false}},"x2":{"field":"d"},"y":{"field":"t","type":"quantitative","scale":{"domain":[0,5],"reverse":true,"nice":false,"zero":false},"axis":{"values":[0,1,2,3,4,5],"title":"t (min)","titleFontSize":18,"titleFontWeight":"normal","labelFontSize":16,"labelFlush":false,"tickSize":5,"labelPadding":3,"titlePadding":5,"grid":false}},"y2":{"field":"u"},"color":{"field":"v","type":"quantitative","scale":{"domain":[-1,-0.6,-0.2,0.1,0.4,0.7,1],"range":["#2a2c93","#3f47a8","#9196d0","#cfd0dc","#d5cfae","#e9d75c","#f7dc1c"],"interpolate":"rgb"},"legend":null},"stroke":{"field":"v","type":"quantitative","scale":{"domain":[-1,-0.6,-0.2,0.1,0.4,0.7,1],"range":["#2a2c93","#3f47a8","#9196d0","#cfd0dc","#d5cfae","#e9d75c","#f7dc1c"],"interpolate":"rgb"},"legend":null}}}
]},
{"width":16,"height":200,"view":{"stroke":null},"layer":[
 {"data":{"name":"cb"},"mark":{"type":"rect","strokeWidth":0.8},"encoding":{"y":{"field":"v","type":"quantitative","scale":{"domain":[-1.27,1.28]},"axis":null},"y2":{"field":"w"},"color":{"field":"v","type":"quantitative","scale":{"domain":[-1,-0.6,-0.2,0.1,0.4,0.7,1],"range":["#2a2c93","#3f47a8","#9196d0","#cfd0dc","#d5cfae","#e9d75c","#f7dc1c"],"interpolate":"rgb"},"legend":null},"stroke":{"field":"v","type":"quantitative","scale":{"domain":[-1,-0.6,-0.2,0.1,0.4,0.7,1],"range":["#2a2c93","#3f47a8","#9196d0","#cfd0dc","#d5cfae","#e9d75c","#f7dc1c"],"interpolate":"rgb"},"legend":null}}},
 {"data":{"values":[{}]},"mark":{"type":"rect","fillOpacity":0,"stroke":"#444","strokeWidth":0.8},"encoding":{"y":{"datum":-1,"type":"quantitative","axis":null},"y2":{"datum":1}}},
 {"data":{"values":[{}]},"mark":{"type":"text","text":"MAX","fontSize":15,"dx":-3,"dy":-4,"baseline":"alphabetic","color":"#111"},"encoding":{"y":{"datum":1,"type":"quantitative","axis":null}}},
 {"data":{"values":[{}]},"mark":{"type":"text","text":"MIN","fontSize":15,"dx":-2,"dy":17,"baseline":"alphabetic","color":"#111"},"encoding":{"y":{"datum":-1,"type":"quantitative","axis":null}}}
]},
{"width":204,"height":200,"view":{"stroke":null},"title":{"text":"f","anchor":"start","frame":"group","dx":-39,"offset":14,"fontSize":22,"fontWeight":"bold"},"layer":[
 {"data":{"name":"fh"},"mark":{"type":"rect","strokeWidth":0.8},"encoding":{"x":{"field":"c","type":"quantitative","scale":{"domain":[1,12],"nice":false,"zero":false},"axis":{"values":[1,2,3,4,5,6,7,8,9,10,11,12],"title":"Channel Number","titleFontSize":16,"titleFontWeight":"normal","labelFontSize":15,"labelFlush":false,"labelOverlap":false,"tickSize":5,"labelPadding":2,"titlePadding":3,"grid":false}},"x2":{"field":"d"},"y":{"field":"t","type":"quantitative","scale":{"domain":[0,5],"reverse":true,"nice":false,"zero":false},"axis":{"values":[0,1,2,3,4,5],"title":"t (min)","titleFontSize":18,"titleFontWeight":"normal","labelFontSize":16,"labelFlush":false,"tickSize":5,"labelPadding":3,"titlePadding":5,"grid":false}},"y2":{"field":"u"},"color":{"field":"v","type":"quantitative","scale":{"domain":[-1,-0.6,-0.2,0.1,0.4,0.7,1],"range":["#2a2c93","#3f47a8","#9196d0","#cfd0dc","#d5cfae","#e9d75c","#f7dc1c"],"interpolate":"rgb"},"legend":null},"stroke":{"field":"v","type":"quantitative","scale":{"domain":[-1,-0.6,-0.2,0.1,0.4,0.7,1],"range":["#2a2c93","#3f47a8","#9196d0","#cfd0dc","#d5cfae","#e9d75c","#f7dc1c"],"interpolate":"rgb"},"legend":null}}},
 {"data":{"name":"fmark"},"mark":{"type":"rule","color":"#ee5a2a","strokeWidth":1.5,"strokeDash":[5,4]},"encoding":{"x":{"field":"c","type":"quantitative","axis":{"values":[1,2,3,4,5,6,7,8,9,10,11,12],"title":"Channel Number","titleFontSize":16,"titleFontWeight":"normal","labelFontSize":15,"labelFlush":false,"labelOverlap":false,"tickSize":5,"labelPadding":2,"titlePadding":3,"grid":false}}}}
]},
{"width":16,"height":200,"view":{"stroke":null},"layer":[
 {"data":{"name":"cb"},"mark":{"type":"rect","strokeWidth":0.8},"encoding":{"y":{"field":"v","type":"quantitative","scale":{"domain":[-1.27,1.28]},"axis":null},"y2":{"field":"w"},"color":{"field":"v","type":"quantitative","scale":{"domain":[-1,-0.6,-0.2,0.1,0.4,0.7,1],"range":["#2a2c93","#3f47a8","#9196d0","#cfd0dc","#d5cfae","#e9d75c","#f7dc1c"],"interpolate":"rgb"},"legend":null},"stroke":{"field":"v","type":"quantitative","scale":{"domain":[-1,-0.6,-0.2,0.1,0.4,0.7,1],"range":["#2a2c93","#3f47a8","#9196d0","#cfd0dc","#d5cfae","#e9d75c","#f7dc1c"],"interpolate":"rgb"},"legend":null}}},
 {"data":{"values":[{}]},"mark":{"type":"rect","fillOpacity":0,"stroke":"#444","strokeWidth":0.8},"encoding":{"y":{"datum":-1,"type":"quantitative","axis":null},"y2":{"datum":1}}},
 {"data":{"values":[{}]},"mark":{"type":"text","text":"MAX","fontSize":15,"dx":-3,"dy":-4,"baseline":"alphabetic","color":"#111"},"encoding":{"y":{"datum":1,"type":"quantitative","axis":null}}},
 {"data":{"values":[{}]},"mark":{"type":"text","text":"MIN","fontSize":15,"dx":-2,"dy":17,"baseline":"alphabetic","color":"#111"},"encoding":{"y":{"datum":-1,"type":"quantitative","axis":null}}}
]}
],"columns":2,"spacing":{"row":81,"column":11},"bounds":"flush"}
]
}
